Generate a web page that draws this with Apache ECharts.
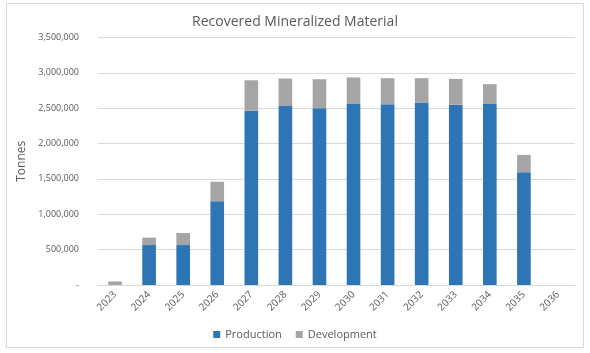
<!DOCTYPE html>
<html><head><meta charset="utf-8">
<script src="https://cdn.jsdelivr.net/npm/echarts@6/dist/echarts.min.js"></script>
<style>html,body{margin:0;padding:0;background:#fff}#c{width:590px;height:353px}</style>
</head><body><div id="c"></div>
<script>
const categories = ['2023','2024','2025','2026','2027','2028','2029','2030','2031','2032','2033','2034','2035','2036'];
const production = [0, 565000, 565000, 1185000, 2465000, 2530000, 2500000, 2560000, 2555000, 2580000, 2550000, 2560000, 1595000, 0];
const development = [50000, 105000, 170000, 275000, 430000, 390000, 410000, 375000, 370000, 345000, 365000, 280000, 245000, 0];
const yTicks = {min: 0, max: 3500000, interval: 500000};

const chart = echarts.init(document.getElementById('c'), null, {renderer: 'canvas'});
const font = '"Open Sans", "Liberation Sans", sans-serif';
chart.setOption({
  animation: false,
  textStyle: {fontFamily: font},
  title: {text: 'Recovered Mineralized Material', left: 'center', top: 10,
    textStyle: {fontSize: 14, fontWeight: 'normal', color: '#595959', fontFamily: font}},
  graphic: [{type: 'rect', shape: {x: 6.5, y: 3.5, width: 577, height: 344},
    style: {fill: 'none', stroke: '#d9d9d9', lineWidth: 1}, silent: true}],
  legend: {data: ['Production', 'Development'], bottom: 8, left: 'center', icon: 'rect',
    itemWidth: 7, itemHeight: 7, itemGap: 14,
    textStyle: {fontSize: 11, color: '#595959', fontFamily: font}},
  grid: {left: 98, right: 15, top: 37.5, bottom: 68, containLabel: false},
  xAxis: {type: 'category', data: categories,
    axisLine: {lineStyle: {color: '#d9d9d9'}}, axisTick: {show: false},
    axisLabel: {rotate: 45, fontSize: 10, color: '#595959', margin: 8, interval: 0, fontFamily: font}},
  yAxis: {type: 'value', min: yTicks.min, max: yTicks.max, interval: yTicks.interval,
    name: 'Tonnes', nameLocation: 'middle', nameGap: 66,
    nameTextStyle: {fontSize: 12, color: '#595959', fontFamily: font},
    axisLine: {show: false}, axisTick: {show: false},
    splitLine: {lineStyle: {color: '#d9d9d9'}},
    axisLabel: {fontSize: 9, color: '#595959', margin: 19, fontFamily: font,
      formatter: v => v === 0 ? '-' : v.toLocaleString('en-US')}},
  series: [
    {name: 'Production', type: 'bar', stack: 't', data: production, barWidth: '40%',
      itemStyle: {color: '#2e75b6'}},
    {name: 'Development', type: 'bar', stack: 't', data: development, barWidth: '40%',
      itemStyle: {color: '#a5a5a5'}}
  ]
});
</script></body></html>
